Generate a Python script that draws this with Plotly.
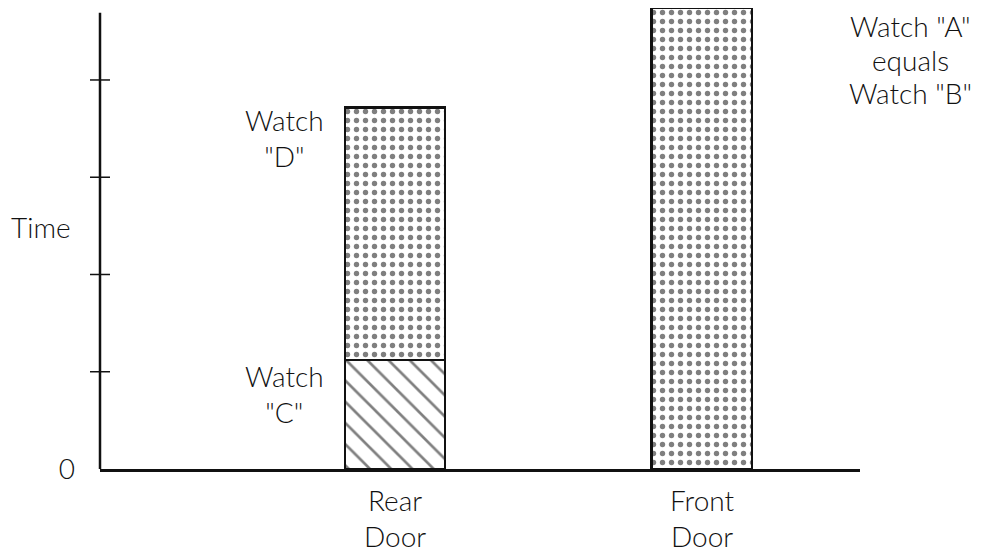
import plotly.graph_objects as go

# ---- data ----
door_labels = ["Rear Door", "Front Door"]
door_pos = [0, 1]
watch_c = [1.12, 0]          # Rear door lower segment
watch_d = [2.60, 0]          # Rear door upper segment
watch_ab = [0, 4.74]         # Front door (Watch A = Watch B)
y_ticks = [1, 2, 3, 4]
y_axis_top = 4.69
y_range_top = 4.74
note_lines = ['Watch "A"', "equals", 'Watch "B"']

INK = "#111111"
FONT = "Lato"
FS = 28

fig = go.Figure()

bar_w = 0.326
line_style = dict(color=INK, width=2.8)
dots = dict(shape=".", fgcolor="#000000", bgcolor="white", size=9, solidity=0.28)
fig.add_trace(go.Bar(
    x=door_pos[:1], y=watch_c[:1], width=bar_w, name='Watch "C"',
    marker=dict(color="white", line=line_style,
                pattern=dict(shape="\\", fgcolor="#000000", bgcolor="white", size=15, solidity=0.18)),
))
fig.add_trace(go.Bar(
    x=door_pos[:1], y=watch_d[:1], width=bar_w, name='Watch "D"',
    marker=dict(color="white", line=line_style, pattern=dots),
))
fig.add_trace(go.Bar(
    x=door_pos[1:], y=watch_ab[1:], width=bar_w, name='Watch "A" = Watch "B"',
    marker=dict(color="white", line=line_style, pattern=dots),
))

# y-axis line (stops short of top)
fig.add_shape(type="line", xref="paper", yref="y", x0=0, x1=0, y0=0, y1=y_axis_top,
              line=dict(color=INK, width=2.5))
# crossing tick marks
for t in y_ticks:
    fig.add_shape(type="line", xref="paper", yref="y", x0=-10 / 760, x1=10 / 760, y0=t, y1=t,
                  line=dict(color=INK, width=1.5))

tfont = dict(size=FS, family=FONT, color=INK, weight=300)
annotations = []
# door labels (two lines, wide spacing)
for pos, lab in zip(door_pos, door_labels):
    w1, w2 = lab.split(" ")
    annotations.append(dict(x=pos, y=-31 / 461, xref="x", yref="paper", text=w1, showarrow=False,
                            font=tfont, xanchor="center", yanchor="middle", borderpad=0))
    annotations.append(dict(x=pos, y=-67 / 461, xref="x", yref="paper", text=w2, showarrow=False,
                            font=tfont, xanchor="center", yanchor="middle", borderpad=0))

# watch labels
annotations.append(dict(x=-0.36, y=3.40, xref="x", yref="y", text='Watch<br>"D"', showarrow=False,
                        font=tfont, align="center", xanchor="center", yanchor="middle"))
annotations.append(dict(x=-0.36, y=0.77, xref="x", yref="y", text='Watch<br>"C"', showarrow=False,
                        font=tfont, align="center", xanchor="center", yanchor="middle"))
for i, line in enumerate(note_lines):
    annotations.append(dict(x=1.0658, y=1 - (i * 33.5) / 461, xref="paper", yref="paper",
                            text=line, showarrow=False, font=tfont, borderpad=0,
                            xanchor="center", yanchor="top"))
# axis title
annotations.append(dict(x=0, y=2.49, xref="paper", yref="y", xshift=-27, xanchor="right",
                        yanchor="middle", text="Time", showarrow=False, font=tfont))

fig.update_layout(
    width=982, height=547,
    margin=dict(l=92, r=130, t=0, b=86),
    paper_bgcolor="white", plot_bgcolor="white",
    barmode="stack", showlegend=False,
    annotations=annotations,
    font=dict(family=FONT, color=INK, size=FS),
)
fig.update_xaxes(range=[-0.961, 1.515], showgrid=False, zeroline=False, showticklabels=False,
                 showline=True, linecolor=INK, linewidth=2.5, ticks="", automargin=False)
fig.update_yaxes(range=[0, y_range_top], showgrid=False, zeroline=False, showline=False,
                 tickvals=[0], ticktext=["0"], ticks="", ticklabelstandoff=24, automargin=False,
                 tickfont=tfont)

fig.write_html("out.html")
